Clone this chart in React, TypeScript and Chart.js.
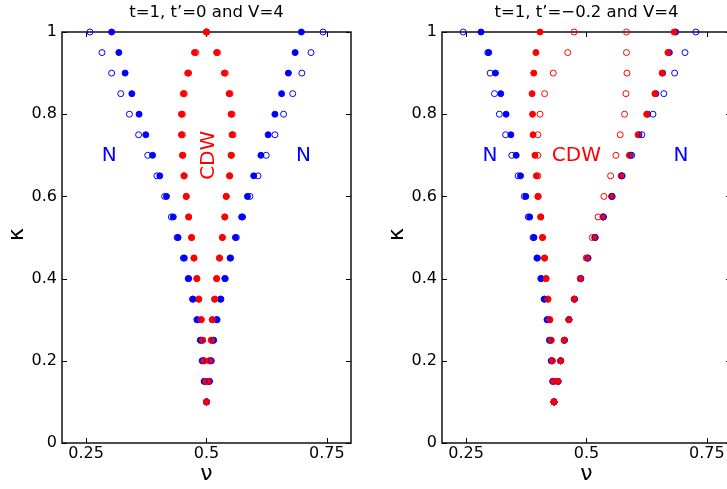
import React, { useEffect, useRef } from "react";
import { Chart, registerables } from "chart.js";
Chart.register(...registerables);

const FONT = '"DejaVu Sans", "Liberation Sans", Arial, sans-serif';

const kappa = [1, 0.95, 0.9, 0.85, 0.8, 0.75, 0.7, 0.65, 0.6, 0.55, 0.5, 0.45, 0.4, 0.35, 0.3, 0.25, 0.2, 0.15, 0.1];

const xTicks = [0.25, 0.5, 0.75];
const xTickLabels = ["0.25", "0.5", "0.75"];
const yTicks = [0, 0.2, 0.4, 0.6, 0.8, 1];
const yTickLabels = ["0", "0.2", "0.4", "0.6", "0.8", "1"];

// Panel A: t=1, t'=0, V=4
const aTitle = "t=1, t\u2019=0 and V=4";
const aBlueFilledL = [0.303, 0.318, 0.331, 0.345, 0.360, 0.374, 0.388, 0.403, 0.417, 0.431, 0.441, 0.454, 0.463, 0.472, 0.481, 0.488, 0.492, 0.496, 0.500];
const aBlueFilledR = [0.697, 0.684, 0.670, 0.656, 0.642, 0.628, 0.613, 0.598, 0.585, 0.573, 0.560, 0.549, 0.538, 0.529, 0.521, 0.514, 0.509, 0.506, 0.500];
const aBlueOpenL = [0.258, 0.283, 0.303, 0.322, 0.340, 0.359, 0.378, 0.397, 0.413, 0.427, 0.439, 0.452, 0.462, 0.471, 0.480, 0.487, 0.491, 0.495, 0.500];
const aBlueOpenR = [0.742, 0.717, 0.698, 0.679, 0.660, 0.642, 0.624, 0.607, 0.590, 0.575, 0.562, 0.550, 0.539, 0.530, 0.522, 0.515, 0.510, 0.506, 0.500];
const aRedFilledL = [0.500, 0.475, 0.461, 0.452, 0.448, 0.448, 0.450, 0.453, 0.458, 0.463, 0.469, 0.474, 0.480, 0.484, 0.489, 0.492, 0.495, 0.499, 0.500];
const aRedFilledR = [0.500, 0.521, 0.537, 0.547, 0.551, 0.553, 0.551, 0.548, 0.541, 0.538, 0.533, 0.527, 0.521, 0.517, 0.512, 0.510, 0.506, 0.503, 0.500];
const aRedOpenL = [0.500, 0.478, 0.463, 0.454, 0.450, 0.450, 0.451, 0.454, 0.458, 0.463, 0.469, 0.474, 0.480, 0.484, 0.489, 0.492, 0.495, 0.499, 0.500];
const aRedOpenR = [0.500, 0.523, 0.539, 0.549, 0.553, 0.555, 0.552, 0.548, 0.541, 0.538, 0.533, 0.527, 0.521, 0.517, 0.512, 0.510, 0.506, 0.503, 0.500];
const aLabelText = ["N", "CDW", "N"];
const aLabelX = [0.298, 0.504, 0.7015];
const aLabelY = [0.7, 0.7, 0.7];
const aLabelColor = ["#0000ff", "#ff0000", "#0000ff"];
const aLabelRot = [0, -90, 0];

// Panel B: t=1, t'=-0.2, V=4
const bTitle = "t=1, t\u2019=\u22120.2 and V=4";
const bBlueFilledL = [0.281, 0.297, 0.311, 0.322, 0.333, 0.343, 0.354, 0.363, 0.374, 0.382, 0.391, 0.398, 0.406, 0.413, 0.419, 0.424, 0.427, 0.430, 0.4325];
const bBlueFilledR = [0.685, 0.672, 0.658, 0.644, 0.627, 0.609, 0.591, 0.573, 0.553, 0.535, 0.518, 0.503, 0.488, 0.475, 0.4636, 0.454, 0.4465, 0.441, 0.4325];
const bBlueOpenL = [0.244, 0.295, 0.300, 0.309, 0.319, 0.332, 0.345, 0.358, 0.371, 0.379, 0.389, 0.397, 0.405, 0.412, 0.418, 0.423, 0.427, 0.430, 0.4325];
const bBlueOpenR = [0.727, 0.7045, 0.683, 0.6605, 0.638, 0.615, 0.594, 0.574, 0.553, 0.535, 0.518, 0.503, 0.488, 0.475, 0.4636, 0.454, 0.4465, 0.441, 0.4325];
const bRedFilledL = [0.4035, 0.395, 0.3905, 0.387, 0.388, 0.389, 0.393, 0.396, 0.399, 0.405, 0.4085, 0.413, 0.416, 0.420, 0.4236, 0.4263, 0.429, 0.4318, 0.4325];
const bRedFilledR = [0.682, 0.669, 0.657, 0.642, 0.625, 0.607, 0.589, 0.572, 0.552, 0.534, 0.517, 0.502, 0.4876, 0.4746, 0.4634, 0.454, 0.4463, 0.4407, 0.4325];
const bRedOpenL = [0.474, 0.461, 0.431, 0.413, 0.4035, 0.399, 0.399, 0.399, 0.400, 0.405, 0.409, 0.413, 0.416, 0.420, 0.424, 0.427, 0.429, 0.432, 0.4325];
const bRedOpenR = [0.583, 0.583, 0.584, 0.582, 0.579, 0.570, 0.561, 0.550, 0.536, 0.524, 0.512, 0.4994, 0.487, 0.4746, 0.4634, 0.454, 0.4463, 0.4407, 0.4325];
const bLabelText = ["N", "CDW", "N"];
const bLabelX = [0.2996, 0.479, 0.696];
const bLabelY = [0.7, 0.7, 0.7];
const bLabelColor = ["#0000ff", "#ff0000", "#0000ff"];
const bLabelRot = [0, 0, 0];

const BLUE = "#0000ff";
const RED = "#ff0000";

function pts(left: number[], right: number[]) {
  return kappa.flatMap((k, i) => [
    { x: left[i], y: k },
    { x: right[i], y: k },
  ]);
}

const framePlugin = {
  id: "frame",
  beforeDatasetsDraw(chart: any) {
    const { ctx, chartArea } = chart;
    const xs = chart.scales.x;
    const ys = chart.scales.y;
    const { left, right, top, bottom } = chartArea;
    ctx.save();
    ctx.strokeStyle = "#000";
    ctx.lineWidth = 1.4;
    ctx.strokeRect(left, top, right - left, bottom - top);
    ctx.lineWidth = 1;
    const tl = 5;
    ctx.beginPath();
    xTicks.forEach((v) => {
      const px = Math.round(xs.getPixelForValue(v)) + 0.5;
      ctx.moveTo(px, bottom);
      ctx.lineTo(px, bottom - tl);
      ctx.moveTo(px, top);
      ctx.lineTo(px, top + tl);
    });
    yTicks.forEach((v) => {
      const py = Math.round(ys.getPixelForValue(v)) + 0.5;
      ctx.moveTo(left, py);
      ctx.lineTo(left + tl, py);
      ctx.moveTo(right, py);
      ctx.lineTo(right - tl, py);
    });
    ctx.stroke();
    ctx.restore();
  },
  afterDraw(chart: any, _args: any, opts: any) {
    const { ctx, chartArea } = chart;
    const xs = chart.scales.x;
    const ys = chart.scales.y;
    const cx = (chartArea.left + chartArea.right) / 2;
    ctx.save();
    ctx.fillStyle = "#000";
    ctx.textAlign = "center";
    ctx.textBaseline = "alphabetic";
    ctx.font = `16.5px ${FONT}`;
    ctx.fillText(opts.title, cx, 17);
    // x axis title
    ctx.font = `22px "DejaVu Sans", sans-serif`;
    ctx.textBaseline = "middle";
    ctx.fillText("\u03bd", cx, 474);
    // y axis title
    ctx.save();
    ctx.translate(chartArea.left - 45, (chartArea.top + chartArea.bottom) / 2 - 3);
    ctx.rotate(-Math.PI / 2);
    ctx.fillText("\u03ba", 0, 0);
    ctx.restore();
    // annotations
    ctx.font = `20px ${FONT}`;
    opts.labels.text.forEach((t: string, i: number) => {
      const px = xs.getPixelForValue(opts.labels.x[i]);
      const py = ys.getPixelForValue(opts.labels.y[i]);
      ctx.save();
      ctx.translate(px, py);
      ctx.rotate((opts.labels.rot[i] * Math.PI) / 180);
      ctx.fillStyle = opts.labels.color[i];
      ctx.textBaseline = "middle";
      ctx.fillText(t, 0, 0);
      ctx.restore();
    });
    ctx.restore();
  },
};

function makeConfig(panel: any, rightPad: number) {
  const ds = (data: any[], color: string, filled: boolean, order: number) => ({
    data,
    order,
    pointRadius: 3,
    pointHoverRadius: 3,
    pointBorderWidth: 1,
    pointBorderColor: color,
    pointBackgroundColor: filled ? color : "rgba(0,0,0,0)",
    showLine: false,
    clip: false,
  });
  const tickFont = { family: FONT, size: 16 };
  return {
    type: "scatter",
    data: {
      datasets: [
        ds(pts(panel.ro[0], panel.ro[1]), RED, false, 0),
        ds(pts(panel.bo[0], panel.bo[1]), BLUE, false, 1),
        ds(pts(panel.rf[0], panel.rf[1]), RED, true, 2),
        ds(pts(panel.bf[0], panel.bf[1]), BLUE, true, 3),
      ],
    },
    options: {
      animation: false,
      responsive: false,
      maintainAspectRatio: false,
      events: [],
      layout: { padding: { top: 32, right: rightPad, left: 0, bottom: 0 } },
      plugins: {
        legend: { display: false },
        tooltip: { enabled: false },
        frame: { title: panel.title, labels: panel.labels },
      },
      scales: {
        x: {
          type: "linear",
          min: 0.2,
          max: 0.8,
          afterBuildTicks: (s: any) => {
            s.ticks = xTicks.map((v) => ({ value: v }));
          },
          afterFit: (s: any) => {
            s.height = 46;
          },
          grid: { display: false, drawTicks: false },
          border: { display: false },
          ticks: {
            padding: 1,
            color: "#000",
            font: tickFont,
            maxRotation: 0,
            autoSkip: false,
            callback: (v: number) => xTickLabels[xTicks.indexOf(v)],
          },
        },
        y: {
          type: "linear",
          min: 0,
          max: 1,
          afterBuildTicks: (s: any) => {
            s.ticks = yTicks.map((v) => ({ value: v }));
          },
          afterFit: (s: any) => {
            s.width = 62;
          },
          grid: { display: false, drawTicks: false },
          border: { display: false },
          ticks: {
            padding: 5,
            color: "#000",
            font: tickFont,
            autoSkip: false,
            callback: (v: number) => yTickLabels[yTicks.indexOf(v)],
          },
        },
      },
    },
    plugins: [framePlugin],
  };
}

const panelA = {
  title: aTitle,
  bf: [aBlueFilledL, aBlueFilledR],
  bo: [aBlueOpenL, aBlueOpenR],
  rf: [aRedFilledL, aRedFilledR],
  ro: [aRedOpenL, aRedOpenR],
  labels: { text: aLabelText, x: aLabelX, y: aLabelY, color: aLabelColor, rot: aLabelRot },
};
const panelB = {
  title: bTitle,
  bf: [bBlueFilledL, bBlueFilledR],
  bo: [bBlueOpenL, bBlueOpenR],
  rf: [bRedFilledL, bRedFilledR],
  ro: [bRedOpenL, bRedOpenR],
  labels: { text: bLabelText, x: bLabelX, y: bLabelY, color: bLabelColor, rot: bLabelRot },
};

function Panel({ panel, left, width, rightPad }: any) {
  const ref = useRef<HTMLCanvasElement>(null);
  useEffect(() => {
    if (!ref.current) return;
    const chart = new Chart(ref.current, makeConfig(panel, rightPad) as any);
    return () => chart.destroy();
  }, []);
  return (
    <canvas
      ref={ref}
      width={width}
      height={489}
      style={{ position: "absolute", left, top: 0, width, height: 489 }}
    />
  );
}

export default function App() {
  return (
    <div
      style={{
        position: "fixed",
        left: 0,
        top: 0,
        width: 727,
        height: 489,
        overflow: "hidden",
        background: "#fff",
      }}
    >
      <Panel panel={panelA} left={0} width={370} rightPad={19} />
      <Panel panel={panelB} left={380} width={400} rightPad={49} />
    </div>
  );
}
